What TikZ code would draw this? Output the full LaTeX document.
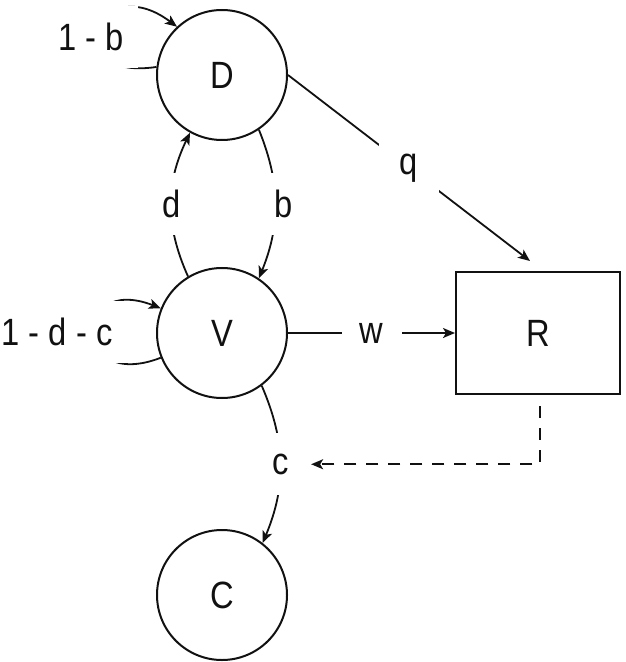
\documentclass[tikz,border=0pt]{standalone}
\usepackage{fontspec}
\setmainfont[FakeStretch=0.86]{Liberation Sans}
\usepackage{xcolor}
\usepackage{tikz}
\usetikzlibrary{positioning,arrows.meta,calc}
\definecolor{ink}{HTML}{111111}
\tikzset{
  lbl/.style={fill=white, inner xsep=7pt, inner ysep=0pt, minimum width=30pt, minimum height=31pt, font=\fontsize{19pt}{22pt}\selectfont, text=ink},
}
\begin{document}
\begin{tikzpicture}[x=0.5pt, y=0.5pt,
  state/.style={circle, draw=ink, line width=1pt, minimum size=65pt, inner sep=0pt, font=\fontsize{19pt}{22pt}\selectfont, text=ink},
  pool/.style={rectangle, draw=ink, line width=1pt, minimum width=82pt, minimum height=61pt, font=\fontsize{19pt}{22pt}\selectfont, text=ink},
  arr/.style={-{Stealth[length=6pt, width=5pt, inset=1.5pt]}, line width=0.9pt, ink},
  dashline/.style={dash pattern=on 6pt off 5pt}]
\useasboundingbox (0,0) rectangle (625,-662);
\node[state] (D) at (222,-75) {D};
\node[state] (V) at (222,-333) {V};
\node[state] (C) at (222,-595) {C};
\node[pool] (R) at (538,-333) {R};
\draw[arr] (D.173) .. controls ($(D.173)+(-100,-15)$) and ($(D.133)+(-80,60)$) .. (D.133);
\draw[arr] (V.202) .. controls ($(V.202)+(-90,-35)$) and ($(V.158)+(-90,35)$) .. (V.158);
\node[lbl] (dstay) at (91,-37) {1 - b};
\node[lbl] (vstay) at (57,-332) {1 - d - c};
\draw[arr] (V.121) to[bend left=25] node[lbl] (dlab) {d} (D.241);
\draw[arr] (D.304) to[bend left=22] node[lbl, xshift=4pt] (blab) {b} (V.56);
\draw[arr] (V.-53) to[bend left=23] node[lbl] (clab) {c} (C.52);
\draw[arr] (V) -- node[lbl] (wlab) {w} (R);
\draw[arr] (D.east) -- node[lbl] (qlab) {q} ([xshift=-4pt, yshift=5pt]R.north);
\draw[arr, dashline, shorten <=5.5pt] ([xshift=1pt]R.south) |- (clab.east);
\end{tikzpicture}
\end{document}
